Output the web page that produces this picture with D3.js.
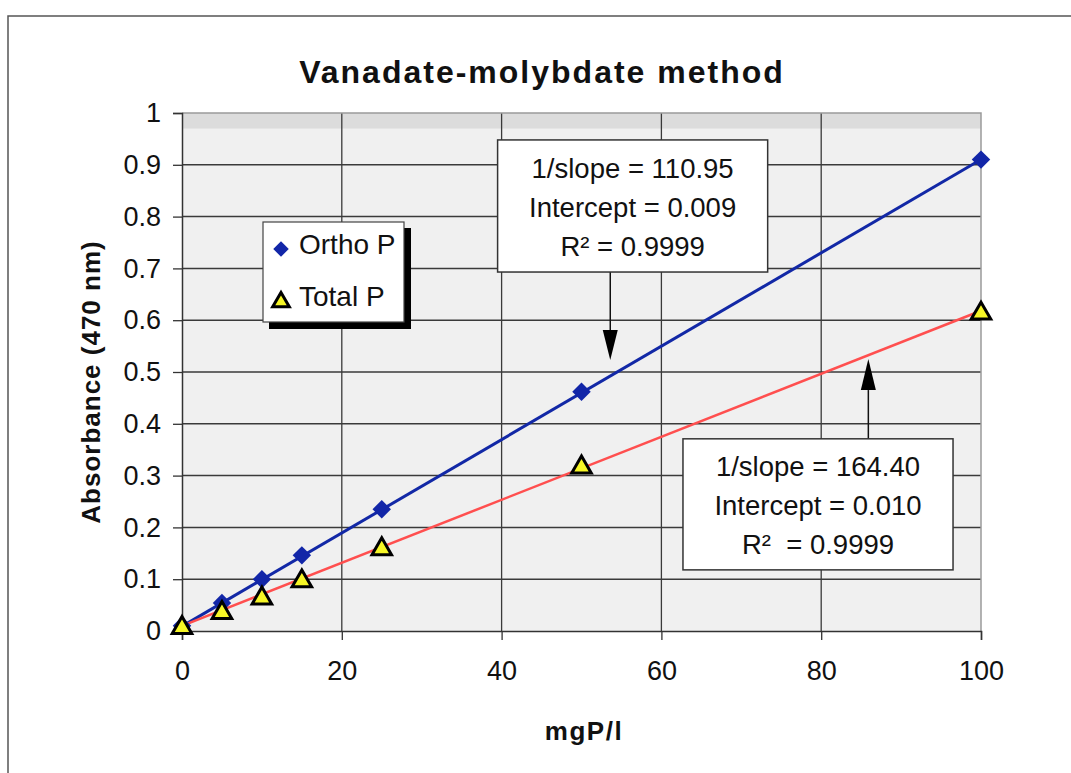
<!DOCTYPE html>
<html>
<head>
<meta charset="utf-8">
<script src="https://cdn.jsdelivr.net/npm/d3@7"></script>
<style>
  body { margin: 0; background: #fff; }
  svg text { font-family: "Liberation Sans", Arial, sans-serif; fill: #111; }
</style>
</head>
<body>
<div id="vis"></div>
<script>
// data
var conc = [0, 5, 10, 15, 25, 50, 100];
var orthoP = [0.010, 0.054, 0.100, 0.146, 0.235, 0.462, 0.910];
var totalP = [0.008, 0.037, 0.065, 0.098, 0.160, 0.318, 0.615];
var seriesNames = ["Ortho P", "Total P"];
var fitInvSlope = [110.95, 164.40];
var fitIntercept = [0.009, 0.010];
var fitLabels = [
  ["1/slope = 110.95", "Intercept = 0.009", "R\u00b2 = 0.9999"],
  ["1/slope = 164.40", "Intercept = 0.010", "R\u00b2  = 0.9999"]
];
var xTicks = [0, 20, 40, 60, 80, 100];
var yTicks = [0, 0.1, 0.2, 0.3, 0.4, 0.5, 0.6, 0.7, 0.8, 0.9, 1];

var W = 1071, H = 773;
var plot = {left: 182, right: 981, top: 113, bottom: 631};

var svg = d3.select('#vis').append('svg')
    .attr('width', W)
    .attr('height', H);

var x = d3.scaleLinear().domain([0, 100]).range([plot.left, plot.right]);
var y = d3.scaleLinear().domain([0, 1]).range([plot.bottom, plot.top]);

// outer frame (only left and top visible)
svg.append('path')
    .attr('d', 'M8,' + (H + 5) + 'V16H' + (W + 5))
    .attr('fill', 'none')
    .attr('stroke', '#555')
    .attr('stroke-width', 1.5);

// plot background
svg.append('rect')
    .attr('x', plot.left).attr('y', plot.top)
    .attr('width', plot.right - plot.left)
    .attr('height', plot.bottom - plot.top)
    .attr('fill', '#f0f0f0');
svg.append('rect')
    .attr('x', plot.left).attr('y', plot.top)
    .attr('width', plot.right - plot.left)
    .attr('height', y(0.97) - y(1))
    .attr('fill', '#dcdcdc');

// grid
svg.append('g').selectAll('line.h')
    .data(yTicks.filter(function(d) { return d > 0 && d < 1; }))
    .enter().append('line')
    .attr('x1', plot.left).attr('x2', plot.right)
    .attr('y1', function(d) { return y(d); })
    .attr('y2', function(d) { return y(d); })
    .attr('stroke', '#3a3a3a')
    .attr('stroke-width', 1.5);
svg.append('g').selectAll('line.v')
    .data(xTicks.filter(function(d) { return d > 0 && d < 100; }))
    .enter().append('line')
    .attr('y1', plot.top).attr('y2', plot.bottom)
    .attr('x1', function(d) { return x(d); })
    .attr('x2', function(d) { return x(d); })
    .attr('stroke', '#3a3a3a')
    .attr('stroke-width', 1.3);
// light top/right border
svg.append('path')
    .attr('d', 'M' + plot.left + ',' + plot.top + 'H' + plot.right + 'V' + plot.bottom)
    .attr('fill', 'none')
    .attr('stroke', '#9a9a9a')
    .attr('stroke-width', 1.5);

// axes
var yAxis = d3.axisLeft(y)
    .tickValues(yTicks)
    .tickSize(9)
    .tickPadding(12)
    .tickFormat(d3.format(''));
var gy = svg.append('g')
    .attr('transform', 'translate(' + plot.left + ',0)')
    .call(yAxis);

var xAxis = d3.axisBottom(x)
    .tickValues(xTicks)
    .tickSize(9)
    .tickPadding(21);
var gx = svg.append('g')
    .attr('transform', 'translate(0,' + plot.bottom + ')')
    .call(xAxis);

[gx, gy].forEach(function(g) {
  g.select('.domain').attr('stroke', '#333').attr('stroke-width', 1.5);
  g.selectAll('.tick line').attr('stroke', '#333').attr('stroke-width', 1.3);
  g.selectAll('.tick text')
    .style('font-family', '"Liberation Sans", Arial, sans-serif')
    .style('font-size', '27px')
    .attr('fill', '#111');
});

// trend lines from the fitted parameters
var fitColors = ['#1228a6', '#ff4f4f'];
var fitWidths = [3, 2.5];
fitInvSlope.forEach(function(s, i) {
  var line = d3.line()
      .x(function(d) { return x(d); })
      .y(function(d) { return y(fitIntercept[i] + d / s); });
  svg.append('path')
      .datum([0, 100])
      .attr('d', line)
      .attr('fill', 'none')
      .attr('stroke', fitColors[i])
      .attr('stroke-width', fitWidths[i]);
});

// markers
var diamond = d3.symbol().type(d3.symbolSquare).size(170);
var triangle = d3.symbol().type(d3.symbolTriangle).size(165);

svg.append('g').selectAll('path')
    .data(conc)
    .enter().append('path')
    .attr('d', diamond)
    .attr('transform', function(d, i) { return 'translate(' + x(d) + ',' + y(orthoP[i]) + ') rotate(45)'; })
    .attr('fill', '#1226a8');

svg.append('g').selectAll('path')
    .data(conc)
    .enter().append('path')
    .attr('d', triangle)
    .attr('transform', function(d, i) { return 'translate(' + x(d) + ',' + (y(totalP[i]) + 1) + ')'; })
    .attr('fill', '#f6f626')
    .attr('stroke', '#000')
    .attr('stroke-width', 3)
    .attr('stroke-linejoin', 'miter');

// annotation boxes with arrows
var boxes = [
  {x0: 39.5, x1: 73.3, y0: 0.948, y1: 0.693, ax: 53.6, tip: 0.523, dir: 'down'},
  {x0: 62.7, x1: 96.5, y0: 0.371, y1: 0.118, ax: 85.9, tip: 0.525, dir: 'up'}
];
boxes.forEach(function(b, i) {
  var g = svg.append('g');
  var ax = x(b.ax);
  var start = b.dir === 'down' ? y(b.y1) : y(b.y0);
  var tip = y(b.tip);
  var base = b.dir === 'down' ? tip - 30 : tip + 31;
  g.append('line')
      .attr('x1', ax).attr('x2', ax)
      .attr('y1', start).attr('y2', base)
      .attr('stroke', '#111').attr('stroke-width', 1.5);
  g.append('path')
      .attr('d', 'M' + (ax - 7.5) + ',' + base + 'L' + (ax + 7.5) + ',' + base + 'L' + ax + ',' + tip + 'Z')
      .attr('fill', '#000');
  g.append('rect')
      .attr('x', x(b.x0)).attr('y', y(b.y0))
      .attr('width', x(b.x1) - x(b.x0))
      .attr('height', y(b.y1) - y(b.y0))
      .attr('fill', '#fff')
      .attr('stroke', '#333')
      .attr('stroke-width', 1.5);
  var cx = (x(b.x0) + x(b.x1)) / 2;
  var top = y(b.y0);
  g.selectAll('text')
      .data(fitLabels[i])
      .enter().append('text')
      .attr('x', cx)
      .attr('y', function(d, j) { return top + 28 + j * 39; })
      .attr('dy', '0.35em')
      .attr('text-anchor', 'middle')
      .style('font-size', '27.5px')
      .style('white-space', 'pre')
      .attr('xml:space', 'preserve')
      .text(function(d) { return d; });
});

// legend
var leg = svg.append('g');
leg.append('rect')
    .attr('x', 269).attr('y', 228)
    .attr('width', 142).attr('height', 101)
    .attr('fill', '#000');
leg.append('rect')
    .attr('x', 263).attr('y', 222)
    .attr('width', 141).attr('height', 100)
    .attr('fill', '#fff')
    .attr('stroke', '#444')
    .attr('stroke-width', 1.2);
leg.append('path')
    .attr('d', d3.symbol().type(d3.symbolSquare).size(120))
    .attr('transform', 'translate(281,249) rotate(45)')
    .attr('fill', '#1226a8');
leg.append('path')
    .attr('d', d3.symbol().type(d3.symbolTriangle).size(120))
    .attr('transform', 'translate(281,302)')
    .attr('fill', '#f6f626')
    .attr('stroke', '#000')
    .attr('stroke-width', 3);
leg.selectAll('text')
    .data(seriesNames)
    .enter().append('text')
    .attr('x', 299)
    .attr('y', function(d, i) { return 244 + i * 52; })
    .attr('dy', '0.35em')
    .style('font-size', '28px')
    .text(function(d) { return d; });

// titles
svg.append('text')
    .attr('x', 542).attr('y', 83)
    .attr('text-anchor', 'middle')
    .style('font-size', '32px')
    .style('font-weight', 'bold')
    .style('letter-spacing', '2px')
    .text('Vanadate-molybdate method');

svg.append('text')
    .attr('x', 584).attr('y', 740)
    .attr('text-anchor', 'middle')
    .style('font-size', '26px')
    .style('font-weight', 'bold')
    .style('letter-spacing', '1.5px')
    .text('mgP/l');

svg.append('text')
    .attr('transform', 'translate(100,382) rotate(-90)')
    .attr('text-anchor', 'middle')
    .style('font-size', '26px')
    .style('font-weight', 'bold')
    .style('letter-spacing', '1px')
    .text('Absorbance (470 nm)');
</script>
</body>
</html>
